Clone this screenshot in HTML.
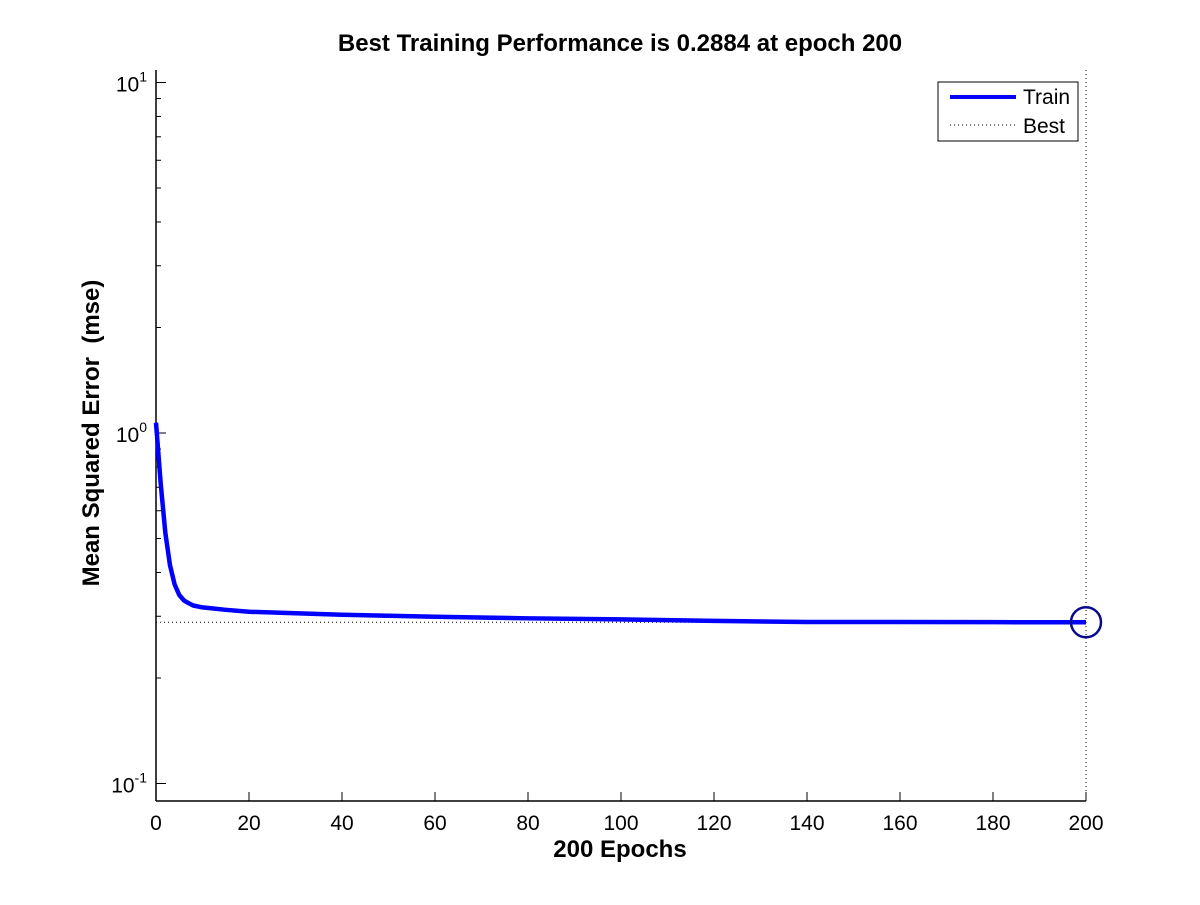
<!DOCTYPE html>
<html><head><meta charset="utf-8"><style>
body{margin:0;background:#fff;}
svg text{font-family:"Liberation Sans",Arial,sans-serif;fill:#000;}
</style></head><body>
<svg id="chart" width="1200" height="900" xmlns="http://www.w3.org/2000/svg">
<rect width="1200" height="900" fill="#fff"/>
<text x="620" y="51" font-size="24" font-weight="bold" text-anchor="middle">Best Training Performance is 0.2884 at epoch 200</text>
<text x="620" y="857" font-size="24" font-weight="bold" text-anchor="middle">200 Epochs</text>
<text transform="translate(99,433) rotate(-90)" font-size="24" font-weight="bold" text-anchor="middle" xml:space="preserve">Mean Squared Error  (mse)</text>
<g id="axes"></g>
<g id="marks"></g>
<g>
<rect x="938" y="82" width="140" height="59" fill="#fff" stroke="#000" stroke-width="1"/>
<line x1="950" y1="97" x2="1016" y2="97" stroke="#0000ff" stroke-width="4"/>
<text x="1023" y="104" font-size="21">Train</text>
<line x1="950" y1="125" x2="1016" y2="125" stroke="#000" stroke-width="1" stroke-dasharray="1,3"/>
<text x="1023" y="133" font-size="21">Best</text>
</g>
</svg>
<script>
const epochs=[0,1,2,3,4,5,6,7,8,10,15,20,30,40,50,60,80,100,120,140,160,180,200];
const trainMse=[1.07,0.72,0.52,0.42,0.37,0.345,0.333,0.327,0.322,0.318,0.313,0.309,0.306,0.303,0.301,0.299,0.296,0.294,0.291,0.289,0.2888,0.2886,0.2884];
const bestEpoch=200;
const bestMse=0.2884;
const xTicks=[0,20,40,60,80,100,120,140,160,180,200];
const yDecades=[-1,0,1];

const L=156,R=1086,T=70,B=801;
const y0=433,dec=350.5;
const X=v=>L+(v-0)/(200-0)*(R-L);
const Y=v=>y0-Math.log10(v)*dec;
const NS="http://www.w3.org/2000/svg";
function mk(tag,attrs,parent){const e=document.createElementNS(NS,tag);for(const k in attrs)e.setAttribute(k,attrs[k]);parent.appendChild(e);return e;}
const ax=document.getElementById('axes'),mg=document.getElementById('marks');
let xa=mk('line',{x1:L,y1:B,x2:R,y2:B,stroke:'#000','stroke-width':1.5},ax);


let ya=mk('line',{x1:L,y1:T,x2:L,y2:B,stroke:'#000','stroke-width':1.5},ax);


xTicks.forEach(t=>{const x=X(t);
 mk('line',{x1:x,y1:B,x2:x,y2:B-9,stroke:'#000'},ax);
 const tx=mk('text',{x:x,y:B+29,'font-size':21,'text-anchor':'middle'},ax);tx.textContent=t;
 
 
});
yDecades.forEach(d=>{const y=Y(Math.pow(10,d));
 mk('line',{x1:L,y1:y,x2:L+10,y2:y,stroke:'#000'},ax);
 const tx=mk('text',{x:L-9,y:y+9,'font-size':21,'text-anchor':'end'},ax);
 
 
 tx.textContent='10';
 const s=mk('tspan',{dy:-10,'font-size':14},tx);s.textContent=d;
 if(d<1){for(let m=2;m<=9;m++){const yy=Y(m*Math.pow(10,d));if(yy<T)continue;
  mk('line',{x1:L,y1:yy,x2:L+5,y2:yy,stroke:'#000'},ax);}}
});
let bh=mk('line',{x1:L,y1:Y(bestMse),x2:R,y2:Y(bestMse),stroke:'#000','stroke-width':1,'stroke-dasharray':'1,3'},mg);


let bv=mk('line',{x1:X(bestEpoch),y1:T,x2:X(bestEpoch),y2:B,stroke:'#000','stroke-width':1,'stroke-dasharray':'1,3'},mg);


let p=mk('polyline',{points:epochs.map((e,i)=>X(e)+','+Y(trainMse[i])).join(' '),fill:'none',stroke:'#0000ff','stroke-width':4.5,'stroke-linejoin':'round'},mg);


let c=mk('circle',{cx:X(bestEpoch),cy:Y(bestMse),r:15,fill:'none',stroke:'#0a0a90','stroke-width':2.5},mg);


</script>
</body></html>
